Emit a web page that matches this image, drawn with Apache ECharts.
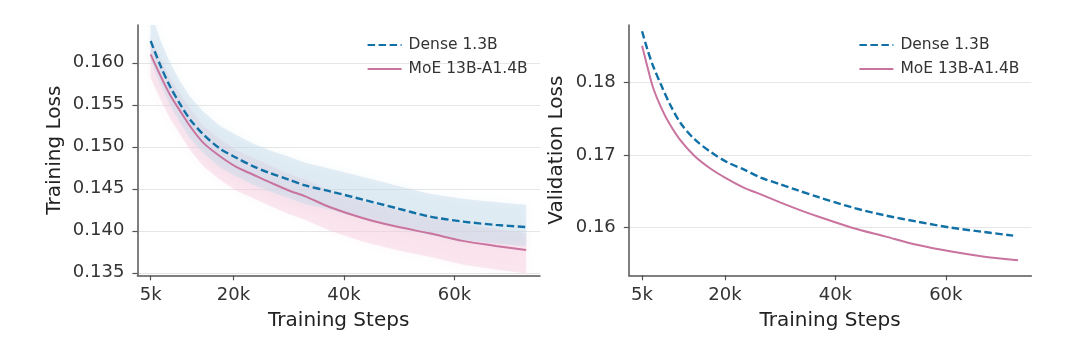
<!DOCTYPE html>
<html>
<head>
<meta charset="utf-8">
<script src="https://cdn.jsdelivr.net/npm/echarts@6/dist/echarts.min.js"></script>
<style>
html,body{margin:0;padding:0;background:#fff;}
#c{width:1080px;height:352px;}
</style>
</head>
<body>
<div id="c"></div>
<script>
// ---------- data ----------
const xTicks = [5000, 20000, 40000, 60000];
const leftYTicks = [0.135, 0.140, 0.145, 0.150, 0.155, 0.160];
const rightYTicks = [0.16, 0.17, 0.18];

const leftSteps = [5000, 6750, 8500, 10500, 12200, 14500, 17500, 20500, 23500, 26500, 30000, 33000, 37500, 43500, 49500, 55500, 61500, 67500, 73000];
const leftDense = [0.1626, 0.1597, 0.1572, 0.1549, 0.1532, 0.1515, 0.1498, 0.1487, 0.1477, 0.1469, 0.1461, 0.1454, 0.1447, 0.1437, 0.1427, 0.1417, 0.1411, 0.1407, 0.14045];
const leftMoe = [0.1610, 0.1585, 0.1562, 0.1541, 0.1524, 0.1505, 0.1489, 0.1476, 0.1467, 0.1458, 0.1448, 0.1441, 0.1428, 0.1415, 0.1405, 0.1397, 0.1388, 0.1382, 0.1377];
// raw (noisy) spread around each training curve
const denseUpper = [0.1661, 0.1627, 0.1600, 0.1576, 0.1559, 0.1542, 0.1525, 0.1514, 0.1504, 0.1496, 0.1488, 0.1481, 0.1474, 0.1464, 0.1454, 0.1444, 0.1438, 0.1434, 0.1431];
const denseLower = [0.1604, 0.1575, 0.1550, 0.1527, 0.1510, 0.1493, 0.1476, 0.1465, 0.1455, 0.1447, 0.1439, 0.1432, 0.1425, 0.1415, 0.1405, 0.1395, 0.1389, 0.1385, 0.1382];
const moeUpper = [0.1630, 0.1605, 0.1582, 0.1561, 0.1544, 0.1525, 0.1509, 0.1496, 0.1487, 0.1478, 0.1468, 0.1461, 0.1448, 0.1435, 0.1425, 0.1417, 0.1408, 0.1402, 0.1397];
const moeLower = [0.1582, 0.1557, 0.1534, 0.1513, 0.1496, 0.1477, 0.1461, 0.1448, 0.1439, 0.1430, 0.1420, 0.1413, 0.1400, 0.1387, 0.1377, 0.1369, 0.1360, 0.1354, 0.1349];

const rightDenseSteps = [5000, 6000, 7000, 8500, 10000, 12000, 14500, 17500, 20500, 23500, 26500, 30000, 33000, 37000, 43000, 49000, 55000, 61000, 67000, 72200];
const rightDense = [0.1871, 0.1845, 0.1823, 0.1796, 0.1771, 0.1744, 0.1722, 0.1704, 0.1690, 0.1680, 0.1669, 0.1660, 0.1652, 0.1642, 0.1628, 0.1617, 0.1608, 0.1600, 0.1594, 0.1589];
const rightMoeSteps = [5000, 6000, 7000, 8500, 10000, 12000, 14500, 17500, 20500, 23500, 26500, 30000, 33000, 37000, 43000, 49000, 55000, 61000, 67000, 73100];
const rightMoe = [0.1851, 0.1821, 0.1793, 0.1765, 0.1743, 0.1720, 0.1699, 0.1681, 0.1667, 0.1655, 0.1646, 0.1635, 0.1626, 0.1615, 0.1600, 0.1588, 0.1576, 0.1567, 0.1560, 0.1555];

const DENSE = 'Dense 1.3B', MOE = 'MoE 13B-A1.4B';
// ---------- style ----------
const FONT = 'DejaVu Sans';
const cDense = '#1170a6', cMoe = '#c9739f';
const axisGray = '#555';
const zip = (xs, ys) => xs.map((x, i) => [x, ys[i]]);

function xAxis(gi) {
  return {
    type: 'value', gridIndex: gi, min: 2600, max: 75500,
    name: 'Training Steps', nameLocation: 'middle', nameGap: 35,
    nameTextStyle: {fontFamily: FONT, fontSize: 20, color: '#222'},
    axisLine: {show: true, lineStyle: {color: axisGray, width: 1.5}},
    axisTick: {show: true, customValues: xTicks, length: 5, lineStyle: {color: axisGray, width: 1.2}},
    axisLabel: {customValues: xTicks, margin: 11, fontFamily: FONT, fontSize: 18, color: '#333',
      formatter: v => (v / 1000) + 'k'},
    splitLine: {show: false}
  };
}
function yAxis(gi, min, max, ticks, dec, name, gap) {
  return {
    type: 'value', gridIndex: gi, min: min, max: max,
    name: name, nameLocation: 'middle', nameGap: gap,
    nameTextStyle: {fontFamily: FONT, fontSize: 20, color: '#222'},
    axisLine: {show: true, lineStyle: {color: axisGray, width: 1.5}},
    axisTick: {show: true, customValues: ticks, length: 5, lineStyle: {color: axisGray, width: 1.2}},
    axisLabel: {customValues: ticks, margin: 13, fontFamily: FONT, fontSize: 18, color: '#333',
      formatter: v => v.toFixed(dec)},
    splitLine: {show: true, lineStyle: {color: '#e6e6e6', width: 1.2}}
  };
}
// band polygon drawn through the axis scale (api.coord), soft edges
function band(lower, upper, color) {
  return {
    type: 'custom', xAxisIndex: 0, yAxisIndex: 0, silent: true, clip: true, z: 1,
    data: leftSteps.map((x, i) => [x, lower[i], upper[i]]),
    renderItem: function (params, api) {
      if (params.dataIndex !== 0) return null;
      const pts = [];
      for (let i = 0; i < leftSteps.length; i++) pts.push(api.coord([leftSteps[i], upper[i]]));
      for (let i = leftSteps.length - 1; i >= 0; i--) pts.push(api.coord([leftSteps[i], lower[i]]));
      return {type: 'polygon', shape: {points: pts},
              style: {fill: color, shadowBlur: 8, shadowColor: color}};
    }
  };
}
function legend(left) {
  return {
    left: left, top: 31, orient: 'vertical', itemWidth: 34, itemHeight: 10, itemGap: 6,
    data: [DENSE, MOE],
    itemStyle: {opacity: 0},
    textStyle: {fontFamily: FONT, fontSize: 15.5, color: '#333', lineHeight: 18, padding: [0, 0, 0, 2]}
  };
}
const denseLine = {width: 2.4, type: [7.5, 3.5], color: cDense};
const moeLine = {width: 2, color: cMoe};

const option = {
  animation: false,
  backgroundColor: '#fff',
  grid: [
    {left: 137.4, top: 25, width: 402.6, height: 250.3},
    {left: 628.8, top: 25, width: 402.6, height: 250.3}
  ],
  xAxis: [xAxis(0), xAxis(1)],
  yAxis: [
    yAxis(0, 0.1347, 0.1645, leftYTicks, 3, 'Training Loss', 73),
    yAxis(1, 0.15343, 0.18796, rightYTicks, 2, 'Validation Loss', 62)
  ],
  legend: [legend(361.6), legend(853.4)],
  series: [
    band(moeLower, moeUpper, 'rgba(244,200,220,0.40)'),
    band(denseLower, denseUpper, 'rgba(190,215,232,0.40)'),
    {name: DENSE, type: 'line', xAxisIndex: 0, yAxisIndex: 0, symbol: 'none', smooth: 0.3,
     data: zip(leftSteps, leftDense), lineStyle: denseLine, itemStyle: {color: cDense}, z: 3},
    {name: MOE, type: 'line', xAxisIndex: 0, yAxisIndex: 0, symbol: 'none', smooth: 0.3,
     data: zip(leftSteps, leftMoe), lineStyle: moeLine, itemStyle: {color: cMoe}, z: 3},
    {name: DENSE, type: 'line', xAxisIndex: 1, yAxisIndex: 1, symbol: 'none', smooth: 0.3,
     data: zip(rightDenseSteps, rightDense), lineStyle: denseLine, itemStyle: {color: cDense}, z: 3},
    {name: MOE, type: 'line', xAxisIndex: 1, yAxisIndex: 1, symbol: 'none', smooth: 0.3,
     data: zip(rightMoeSteps, rightMoe), lineStyle: moeLine, itemStyle: {color: cMoe}, z: 3}
  ]
};
const chart = echarts.init(document.getElementById('c'), null, {renderer: 'canvas'});
chart.setOption(option);
</script>
</body>
</html>
